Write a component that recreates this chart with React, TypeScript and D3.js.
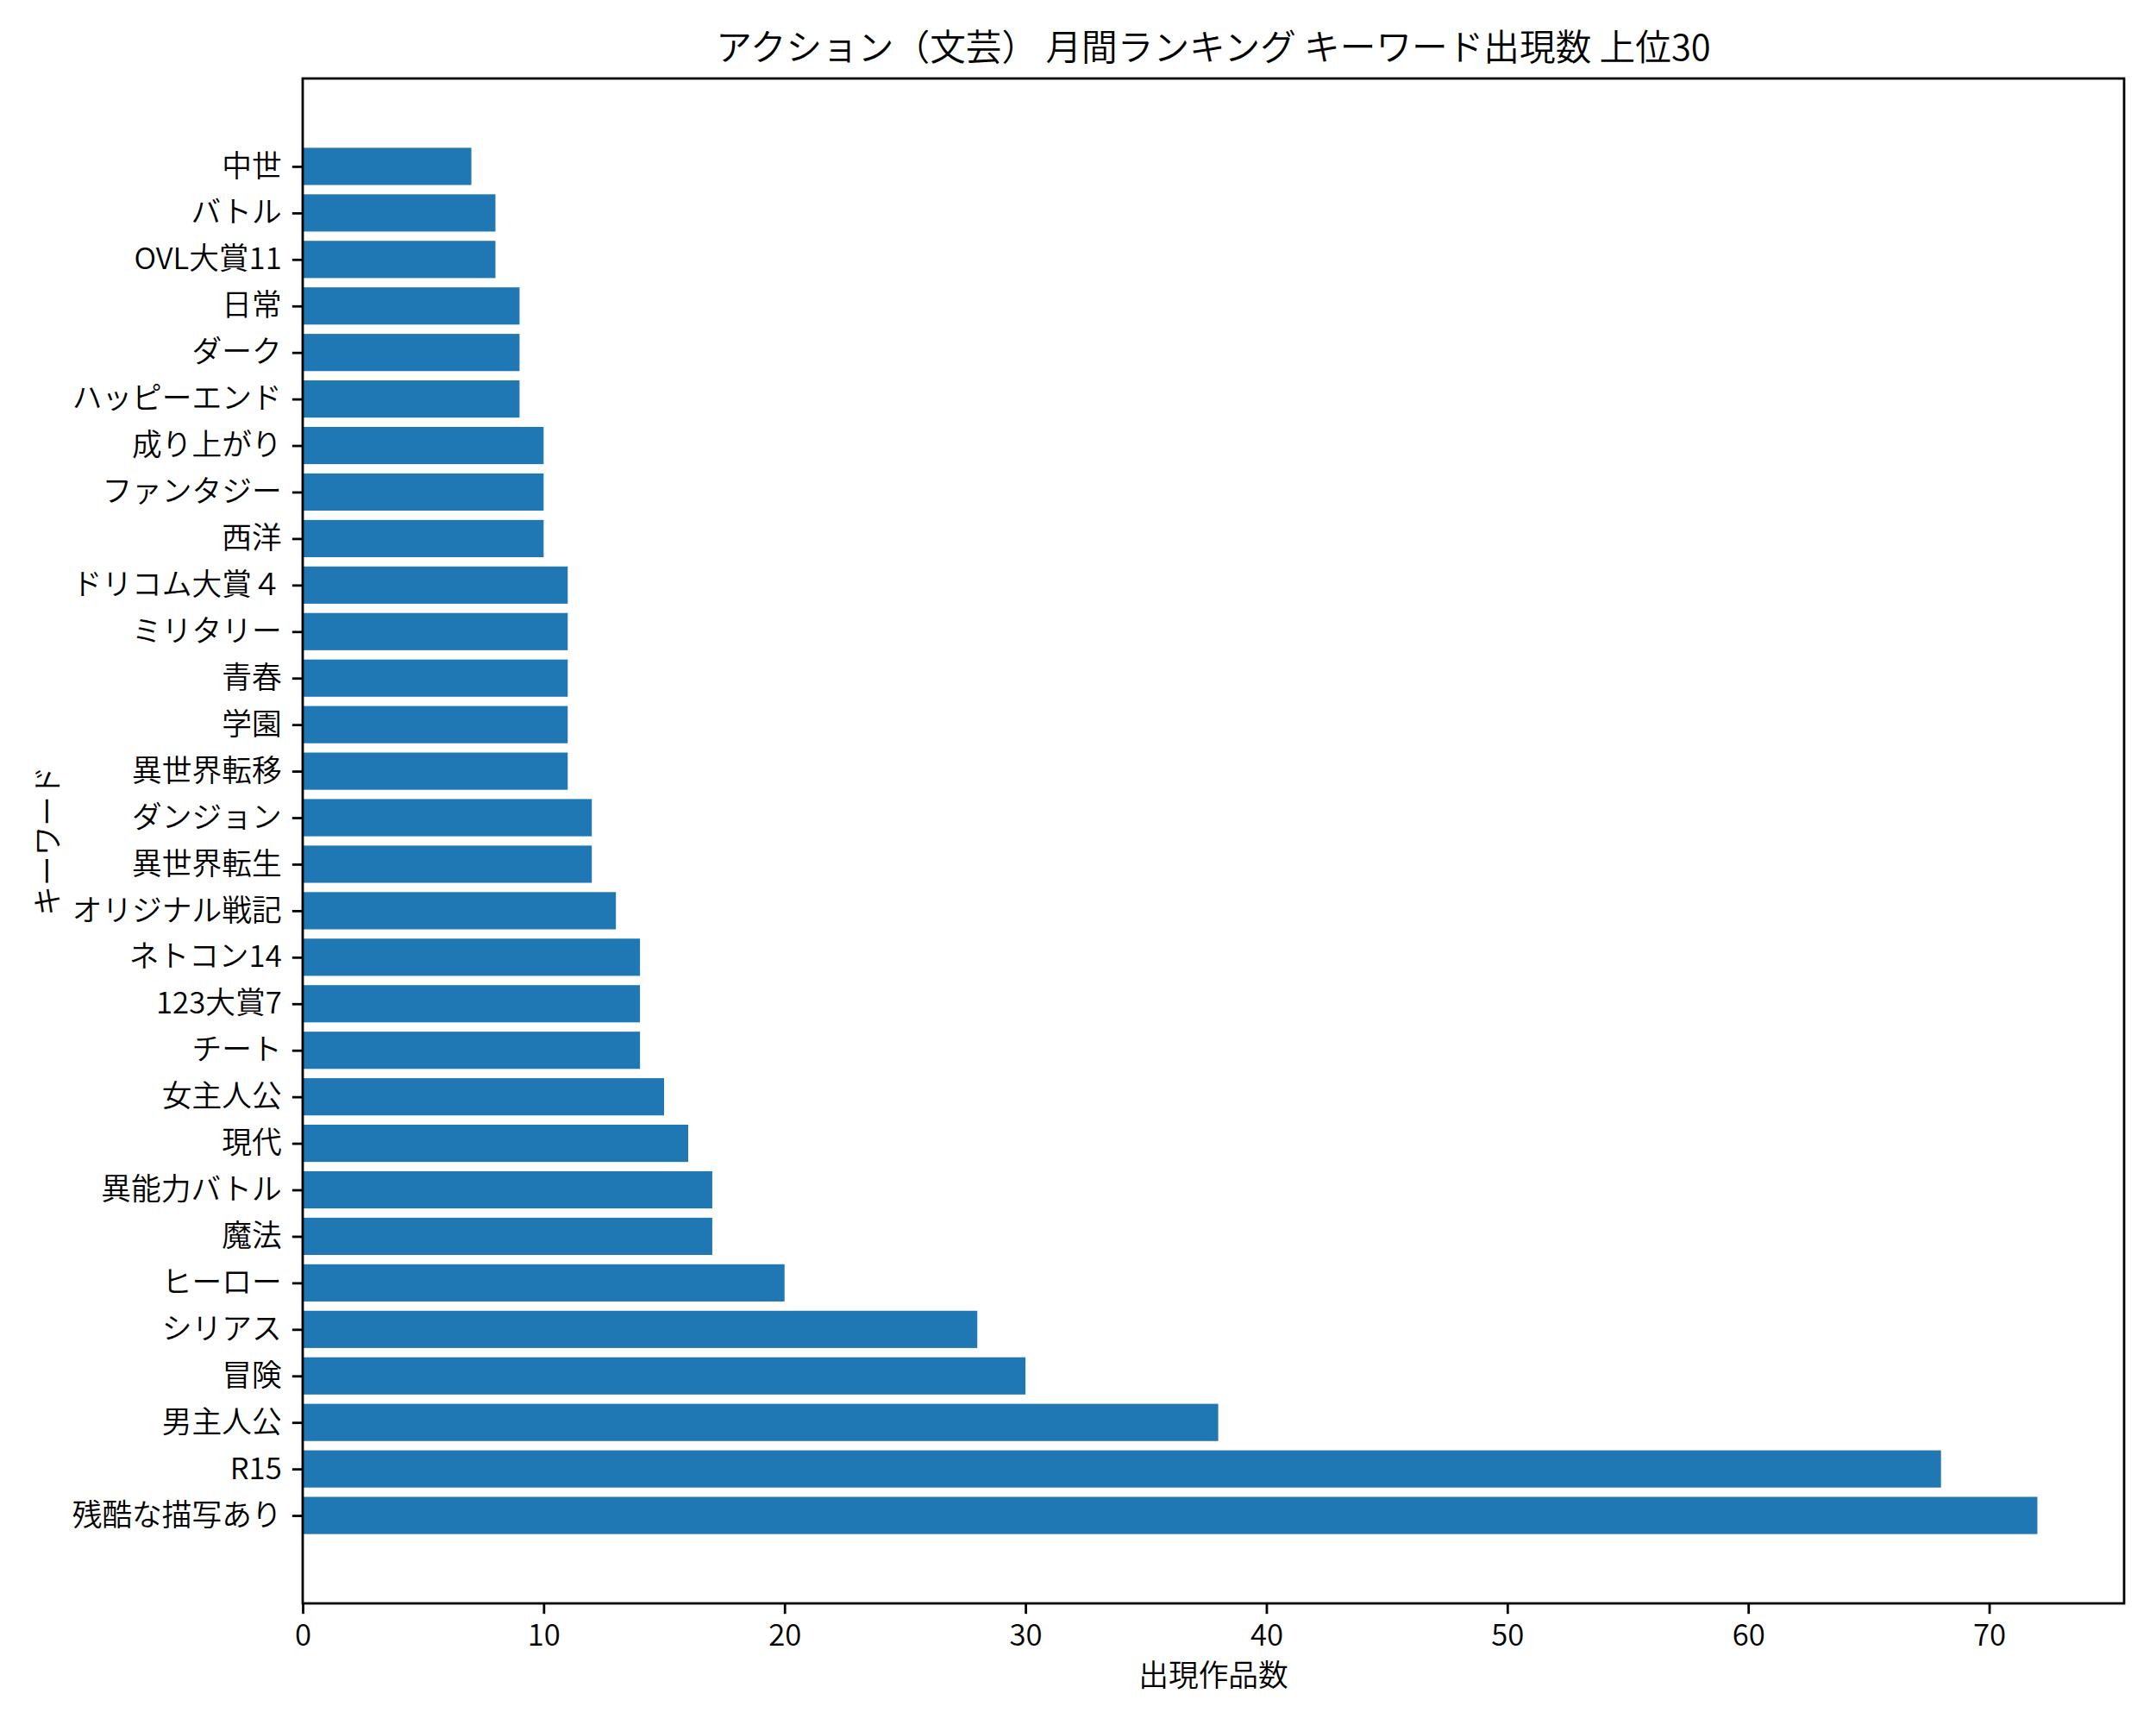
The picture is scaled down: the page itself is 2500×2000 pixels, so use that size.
import { useEffect, useRef } from 'react';
import * as d3 from 'd3';

// keywords, bottom (index 0) to top, as matplotlib's barh lays them out
const keywords = [
  '残酷な描写あり', 'R15', '男主人公', '冒険', 'シリアス', 'ヒーロー', '魔法', '異能力バトル',
  '現代', '女主人公', 'チート', '123大賞7', 'ネトコン14', 'オリジナル戦記', '異世界転生',
  'ダンジョン', '異世界転移', '学園', '青春', 'ミリタリー', 'ドリコム大賞４', '西洋',
  'ファンタジー', '成り上がり', 'ハッピーエンド', 'ダーク', '日常', 'OVL大賞11', 'バトル', '中世',
];
const counts = [
  72, 68, 38, 30, 28, 20, 17, 17, 16, 15, 14, 14, 14, 13, 12,
  12, 11, 11, 11, 11, 11, 10, 10, 10, 9, 9, 9, 8, 8, 7,
];
const xTicks = [0, 10, 20, 30, 40, 50, 60, 70];

const TITLE = 'アクション（文芸） 月間ランキング キーワード出現数 上位30';
const X_LABEL = '出現作品数';
const Y_LABEL = 'キーワード';

const WIDTH = 2500;
const HEIGHT = 2000;
const MARGIN = { top: 91, right: 37, bottom: 141, left: 351 };
const PT = 250 / 72; // figure was rendered at 250 dpi
const FONT = '"Noto Sans CJK JP", "Noto Sans", sans-serif';
const WEIGHT = 350;
const BAR_COLOR = '#1f77b4';

export default function App() {
  const svgRef = useRef<SVGSVGElement>(null);

  useEffect(() => {
    if (!svgRef.current) return;
    const svg = d3.select(svgRef.current);
    svg.selectAll('*').remove();

    const w = WIDTH - MARGIN.left - MARGIN.right;
    const h = HEIGHT - MARGIN.top - MARGIN.bottom;
    const n = keywords.length;
    const barH = 0.8;

    // matplotlib default margins: 5% on each side
    const xMax = d3.max(counts)! * 1.05;
    const yLo = -barH / 2;
    const yHi = n - 1 + barH / 2;
    const yPad = (yHi - yLo) * 0.05;

    const x = d3.scaleLinear().domain([0, xMax]).range([0, w]);
    const y = d3.scaleLinear().domain([yLo - yPad, yHi + yPad]).range([h, 0]);

    const g = svg
      .append('g')
      .attr('transform', `translate(${MARGIN.left},${MARGIN.top})`);

    // Bars
    g.selectAll('rect.bar')
      .data(counts)
      .join('rect')
      .attr('class', 'bar')
      .attr('x', x(0))
      .attr('y', (_, i) => y(i + barH / 2))
      .attr('width', (d) => x(d) - x(0))
      .attr('height', y(0) - y(barH))
      .attr('fill', BAR_COLOR);

    // X axis
    const xAxis = g
      .append('g')
      .attr('transform', `translate(0,${h})`)
      .call(
        d3
          .axisBottom(x)
          .tickValues(xTicks)
          .tickSize(3.5 * PT)
          .tickPadding(3.5 * PT)
      );
    xAxis.select('.domain').remove();
    xAxis.selectAll('line').attr('stroke', '#000').attr('stroke-width', 0.8 * PT);
    xAxis
      .selectAll('text')
      .attr('font-size', 10 * PT)
      .attr('font-family', FONT)
      .attr('font-weight', WEIGHT)
      .attr('fill', '#000');

    // Y axis
    const yAxis = g
      .append('g')
      .call(
        d3
          .axisLeft(y)
          .tickValues(d3.range(n))
          .tickFormat((d) => keywords[d as number])
          .tickSize(3.5 * PT)
          .tickPadding(3.5 * PT)
      );
    yAxis.select('.domain').remove();
    yAxis.selectAll('line').attr('stroke', '#000').attr('stroke-width', 0.8 * PT);
    yAxis
      .selectAll('text')
      .attr('font-size', 10 * PT)
      .attr('font-family', FONT)
      .attr('font-weight', WEIGHT)
      .attr('fill', '#000');

    // Spines
    g.append('rect')
      .attr('x', 0)
      .attr('y', 0)
      .attr('width', w)
      .attr('height', h)
      .attr('fill', 'none')
      .attr('stroke', '#000')
      .attr('stroke-width', 0.8 * PT);

    // Title
    svg
      .append('text')
      .attr('x', MARGIN.left + w / 2)
      .attr('y', MARGIN.top - 6 * PT)
      .attr('text-anchor', 'middle')
      .attr('font-size', 12 * PT)
      .attr('font-family', FONT)
      .attr('font-weight', WEIGHT)
      .attr('fill', '#000')
      .text(TITLE);

    // Axis labels
    svg
      .append('text')
      .attr('x', MARGIN.left + w / 2)
      .attr('y', 1955)
      .attr('text-anchor', 'middle')
      .attr('font-size', 10 * PT)
      .attr('font-family', FONT)
      .attr('font-weight', WEIGHT)
      .attr('fill', '#000')
      .text(X_LABEL);

    svg
      .append('text')
      .attr('transform', `translate(53,${MARGIN.top + h / 2}) rotate(-90)`)
      .attr('text-anchor', 'middle')
      .attr('dominant-baseline', 'central')
      .attr('font-size', 10 * PT)
      .attr('font-family', FONT)
      .attr('font-weight', WEIGHT)
      .attr('fill', '#000')
      .text(Y_LABEL);
  }, []);

  return (
    <div style={{ position: 'absolute', left: 0, top: 0 }}>
      <svg
        ref={svgRef}
        width={WIDTH}
        height={HEIGHT}
        style={{ display: 'block', background: '#fff', fontFamily: FONT }}
      />
    </div>
  );
}
